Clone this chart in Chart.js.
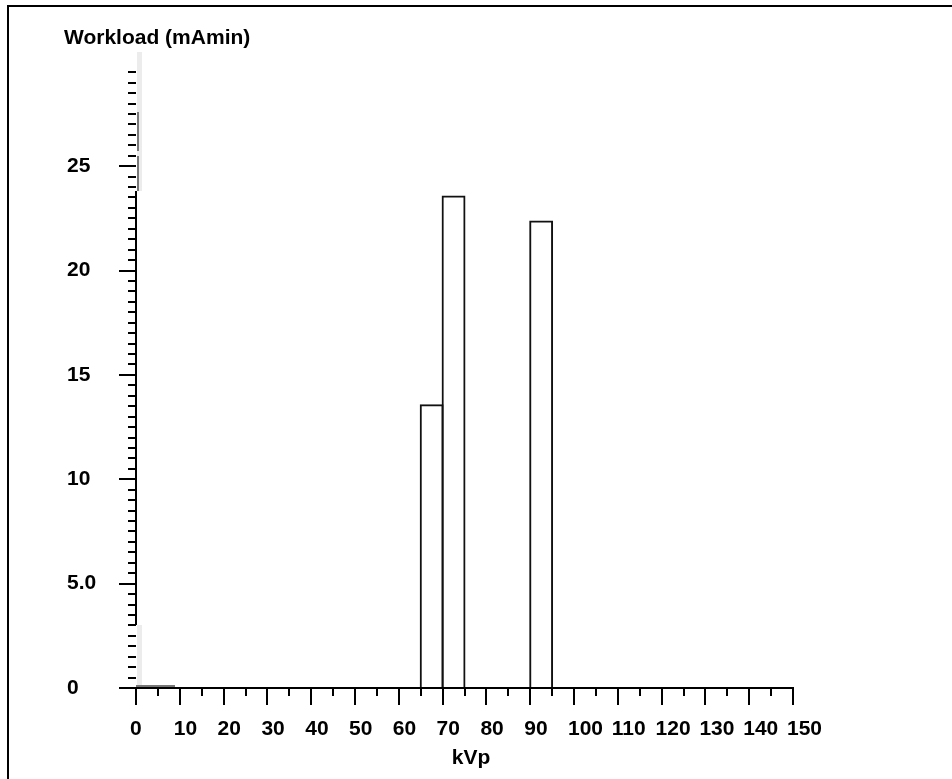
<!DOCTYPE html>
<html>
<head>
<meta charset="utf-8">
<title>Workload by kVp</title>
<script src="https://cdn.jsdelivr.net/npm/chart.js@4.4.1/dist/chart.umd.min.js"></script>
<style>
  html, body { margin: 0; padding: 0; background: #fff; }
  #wrap { position: relative; width: 952px; height: 779px; overflow: hidden; }
  #frame { position: absolute; left: 7px; top: 5px; right: -4px; bottom: -4px;
           border-left: 2px solid #000; border-top: 2px solid #000; pointer-events: none; }
</style>
</head>
<body>
<div id="wrap">
  <canvas id="workloadChart" width="952" height="779"></canvas>
  <div id="frame"></div>
</div>
<script>
// workload per 5 kVp bin, keyed by bin centre
var kvpBins = [67.5, 72.5, 92.5];
var workload = [13.6, 23.6, 22.4];

var yTicks = [0, 5, 10, 15, 20, 25];
var yTickLabels = ['0', '5.0', '10', '15', '20', '25'];
var xMin = 0, xMax = 150, xStep = 10;

var FONT = 'Liberation Sans';

// axis lines, minor/major tick marks and titles, drawn old-school
var axisPlugin = {
  id: 'axisPlugin',
  afterDraw: function (chart) {
    var c = chart.ctx;
    var xs = chart.scales.x, ys = chart.scales.y;
    var x0 = Math.round(xs.getPixelForValue(xMin));
    var x1 = Math.round(xs.getPixelForValue(xMax));
    var y0 = Math.round(ys.getPixelForValue(0));
    c.save();

    // light grey strips left over on the y axis
    c.fillStyle = '#ececec';
    c.fillRect(x0 + 1, 52, 5, Math.round(ys.getPixelForValue(23.8)) - 52);
    c.fillRect(x0 + 1, Math.round(ys.getPixelForValue(3)), 5, y0 - Math.round(ys.getPixelForValue(3)));
    c.strokeStyle = '#777';
    c.lineWidth = 2;
    c.beginPath();
    c.moveTo(x0 + 2, Math.round(ys.getPixelForValue(27.6)));
    c.lineTo(x0 + 2, Math.round(ys.getPixelForValue(25.75)));
    c.moveTo(x0 + 2, Math.round(ys.getPixelForValue(25.5)));
    c.lineTo(x0 + 2, Math.round(ys.getPixelForValue(23.8)));
    c.moveTo(x0, y0 - 2);
    c.lineTo(Math.round(xs.getPixelForValue(9)), y0 - 2);
    c.stroke();

    c.strokeStyle = '#000';
    c.lineWidth = 2;
    c.beginPath();
    // x axis
    c.moveTo(x0 - 17, y0);
    c.lineTo(x1 + 1, y0);
    // y axis (visible part)
    c.moveTo(x0, Math.round(ys.getPixelForValue(23.8)));
    c.lineTo(x0, Math.round(ys.getPixelForValue(3)));
    // x ticks every 5, long every 10
    for (var v = xMin; v <= xMax; v += 5) {
      var px = Math.round(xs.getPixelForValue(v));
      var len = (v % 10 === 0) ? 17 : 8;
      c.moveTo(px, y0);
      c.lineTo(px, y0 + len);
    }
    // y ticks every 0.5, long every 5
    for (var k = 0; k <= 59; k++) {
      var val = k / 2;
      var py = Math.round(ys.getPixelForValue(val));
      var tl = (val % 5 === 0) ? 17 : 8;
      c.moveTo(x0 - tl, py);
      c.lineTo(x0, py);
    }
    c.stroke();

    c.fillStyle = '#000';
    c.font = 'bold 21px "' + FONT + '"';
    c.textBaseline = 'alphabetic';
    c.textAlign = 'left';
    c.fillText('Workload (mAmin)', 64, 44);
    c.textAlign = 'center';
    c.fillText('kVp', 471, 764);
    c.restore();
  }
};

var ctx = document.getElementById('workloadChart').getContext('2d');
var workloadChart = new Chart(ctx, {
  type: 'bar',
  data: {
    datasets: [{
      label: 'Workload (mAmin)',
      data: kvpBins.map(function (k, i) { return { x: k, y: workload[i] }; }),
      backgroundColor: 'rgba(255,255,255,0)',
      borderColor: '#111',
      borderWidth: 2,
      borderSkipped: 'bottom',
      barPercentage: 1.091,
      categoryPercentage: 1
    }]
  },
  options: {
    responsive: false,
    animation: false,
    layout: { padding: { left: 67, right: 159, top: 66, bottom: 0 } },
    plugins: {
      legend: { display: false },
      tooltip: { enabled: false }
    },
    scales: {
      x: {
        type: 'linear',
        min: xMin,
        max: xMax,
        offset: false,
        grid: { display: false, drawTicks: false, offset: false },
        border: { display: false },
        ticks: {
          stepSize: xStep,
          autoSkip: false,
          maxRotation: 0,
          align: 'start',
          labelOffset: -6,
          padding: 29,
          color: '#000',
          font: { family: FONT, size: 21, weight: 'bold' }
        },
        afterFit: function (s) { s.height = 91; }
      },
      y: {
        min: 0,
        max: 29.8,
        grid: { display: false, drawTicks: false },
        border: { display: false },
        ticks: {
          stepSize: 5,
          includeBounds: false,
          crossAlign: 'far',
          color: '#000',
          font: { family: FONT, size: 21, weight: 'bold' },
          callback: function (value) {
            var i = yTicks.indexOf(value);
            return i >= 0 ? yTickLabels[i] : null;
          }
        },
        afterFit: function (s) { s.width = 69; }
      }
    }
  },
  plugins: [axisPlugin]
});
</script>
</body>
</html>
